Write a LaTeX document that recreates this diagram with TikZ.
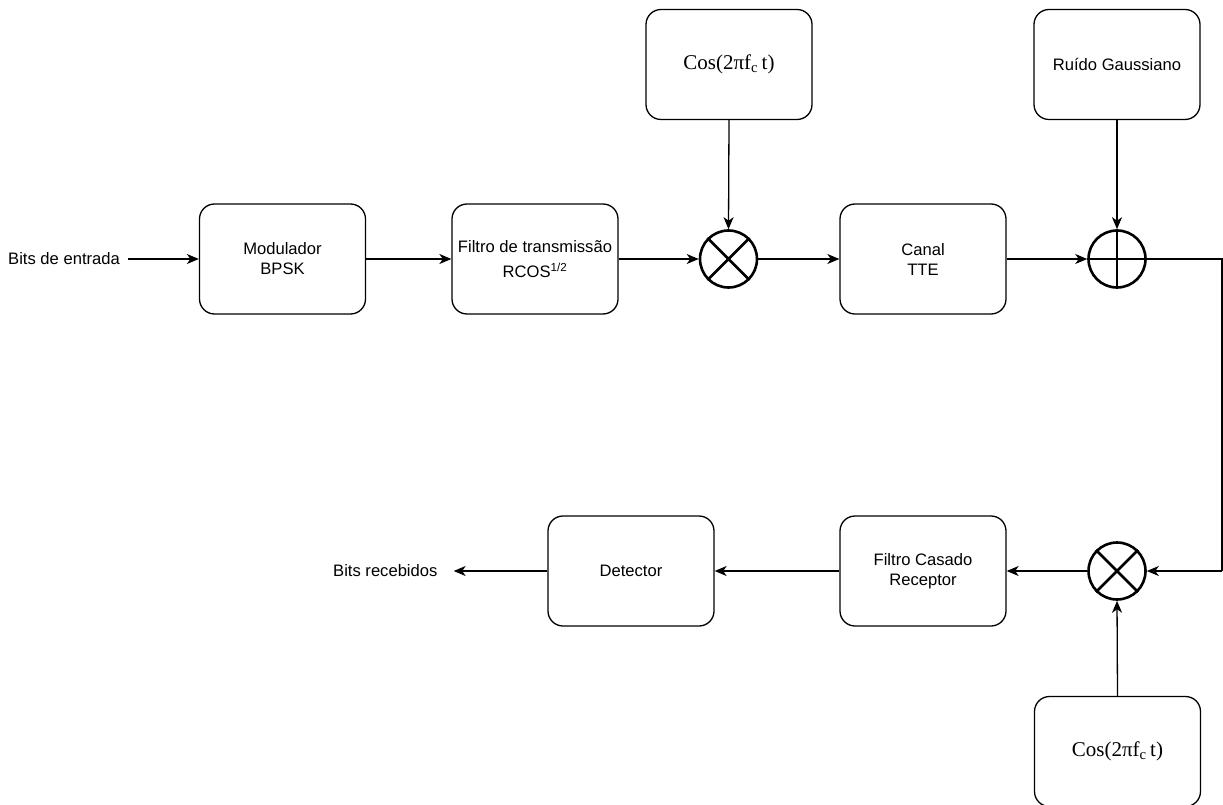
\documentclass[tikz,border=0pt]{standalone}
\usepackage{fontspec}
\setmainfont{Liberation Sans}
\newfontfamily\timesf{Liberation Serif}
\usetikzlibrary{arrows.meta,calc}
\begin{document}
\begin{tikzpicture}[x=1pt,y=-1pt,
  blk/.style={draw,line width=1.3pt,rounded corners=15pt,minimum width=166pt,minimum height=110pt,align=center,inner sep=0pt,
    font=\fontsize{16.6}{20}\selectfont},
  osc/.style={blk,font=\timesf\fontsize{21}{24}\selectfont},
  circ/.style={draw,circle,line width=2.6pt,minimum size=57pt,inner sep=0pt},
  lbl/.style={font=\fontsize{16.6}{20}\selectfont,inner sep=0pt},
  conn/.style={line width=1.3pt,-{Stealth[length=12pt,width=10pt,inset=3.5pt]}},
  wire/.style={line width=1.3pt}]
\useasboundingbox (0,0) rectangle (1223,805);
% nodes
\node[lbl,anchor=west] (in) at (8,259) {Bits de entrada};
\node[blk] (mod) at (282.5,259) {Modulador\\BPSK};
\node[blk,font=\fontsize{16.6}{25}\selectfont] (tx) at (535,259) {Filtro de transmissão\\RCOS\textsuperscript{1/2}};
\node[circ] (mix1) at (728.5,259) {};
\node[osc] (cos1) at (729,64.5) {Cos(2πf\textsubscript{c}\,t)};
\node[blk] (can) at (923,259) {Canal\\TTE};
\node[circ] (add) at (1117,259) {};
\node[blk] (noise) at (1117,64.5) {Ruído Gaussiano};
\coordinate (c1) at (1222,259);
\coordinate (c2) at (1222,571);
\node[circ] (mix2) at (1117,571) {};
\node[osc] (cos2) at (1117.5,751.5) {Cos(2πf\textsubscript{c}\,t)};
\node[blk] (mf) at (923,571) {Filtro Casado\\Receptor};
\node[blk] (det) at (631,571) {Detector};
\node[lbl,anchor=west] (out) at (333,571) {Bits recebidos};
% symbols inside circles
\draw[line width=2.6pt] (mix1.north west) -- (mix1.south east) (mix1.north east) -- (mix1.south west);
\draw[line width=2.6pt] (mix2.north west) -- (mix2.south east) (mix2.north east) -- (mix2.south west);
\draw[line width=2.6pt] (add.west) -- (add.east) (add.north) -- (add.south);
% connectors
\draw[conn] ([xshift=8pt]in.east) -- (mod.west);
\draw[conn] (mod.east) -- (tx.west);
\draw[conn] (tx.east) -- (mix1.west);
\draw[conn] (cos1.south) -- (mix1.north);
\draw[conn] (mix1.east) -- (can.west);
\draw[conn] (can.east) -- (add.west);
\draw[conn] (noise.south) -- (add.north);
\draw[wire] (add.east) -- (c1) -- (c2);
\draw[conn] (c2) -- (mix2.east);
\draw[conn] (cos2.north) -- (mix2.south);
\draw[conn] (mix2.west) -- (mf.east);
\draw[conn] (mf.west) -- (det.east);
\draw[conn] (det.west) -- ([xshift=16pt]out.east);
\end{tikzpicture}
\end{document}
